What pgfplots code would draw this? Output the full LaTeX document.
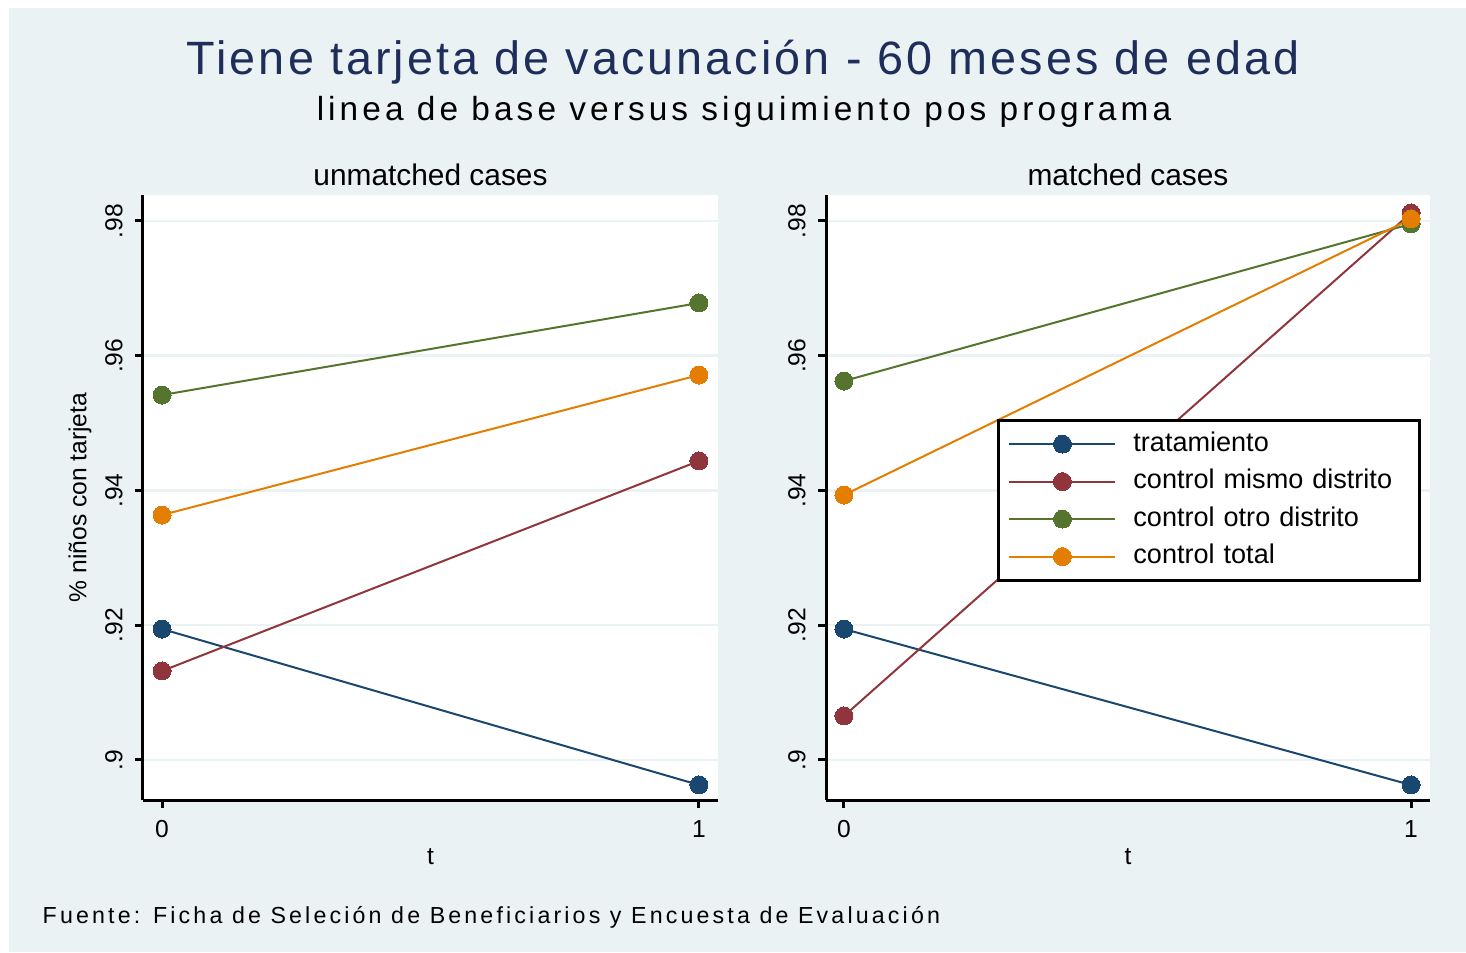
\documentclass[border=0pt]{standalone}
\usepackage{fontspec}
\setmainfont{Liberation Sans}
\usepackage{pgfplots}
\pgfplotsset{compat=1.18}
\definecolor{bg}{RGB}{234,242,243}
\definecolor{ttl}{RGB}{30,45,90}
\definecolor{cnavy}{RGB}{26,71,111}
\definecolor{cmaroon}{RGB}{144,53,59}
\definecolor{cgreen}{RGB}{85,117,47}
\definecolor{corange}{RGB}{227,126,0}
\pgfplotsset{
  ser/.style={color=#1, line width=0.2mm, mark=*, mark size=0.9mm, mark options={fill=#1, draw=#1, line width=0pt}},
  panel/.style={
    scale only axis, height=60.5mm,
    axis lines=left,
    axis line style={-, line width=0.3mm, black},
    every outer x axis line/.append style={-},
    every outer y axis line/.append style={-},
    tick align=outside, major tick length=0.8mm,
    tick style={black, line width=0.3mm},
    xtick={0,1}, xticklabels={0,1},
    ytick={0.9,0.92,0.94,0.96,0.98}, yticklabels={.9,.92,.94,.96,.98},
    ymin=0.89406, ymax=0.98386,
    ymajorgrids, major grid style={bg, line width=0.25mm},
    axis background/.style={fill=white},
    tick label style={font=\fontsize{7}{8}\selectfont},
    yticklabel style={rotate=90, anchor=south},
    xlabel={t},
    xlabel style={font=\fontsize{7}{8}\selectfont, at={(axis description cs:0.5,0)}, anchor=base, yshift=-6.4mm},
    title style={font=\fontsize{8.5}{10}\selectfont, at={(axis description cs:0.5,1)}, anchor=base, yshift=-1.2mm, inner sep=0pt},
    clip=false,
    legend image code/.code={\draw[mark repeat=2, mark phase=2, #1] plot coordinates {(0mm,0mm) (5.3mm,0mm) (10.6mm,0mm)};},
  }
}
\begin{document}
\begin{tikzpicture}[x=0.1mm,y=0.1mm]
\fill[white] (0,0) rectangle (1466,952);
\fill[bg] (9,0) rectangle (1466,944);
\node[font=\fontsize{13.3}{16}\selectfont\addfontfeature{LetterSpace=6.6}, text=ttl] at (743,890) {Tiene tarjeta de vacunación - 60 meses de edad};
\node[font=\fontsize{9.5}{12}\selectfont\addfontfeature{LetterSpace=12.2}, text=black] at (744,840) {linea de base versus siguimiento pos programa};
\node[font=\fontsize{6.6}{8}\selectfont\addfontfeature{LetterSpace=13.6}, anchor=west, inner sep=0pt] at (42,35) {Fuente: Ficha de Seleción de Beneficiarios y Encuesta de Evaluación};

\begin{axis}[panel, at={(14.3mm,15.2mm)}, anchor=south west, width=57.5mm,
  xmin=-0.0354, xmax=1.0354,
  title={unmatched cases},
  ylabel={\% niños con tarjeta},
  ylabel style={font=\fontsize{7}{8}\selectfont, at={(axis description cs:-0.1096,0.5)}, anchor=center},
]
\addplot[ser=cnavy] coordinates {(0,0.91944) (1,0.89629)};
\addplot[ser=cmaroon] coordinates {(0,0.91321) (1,0.94438)};
\addplot[ser=cgreen] coordinates {(0,0.95417) (1,0.96783)};
\addplot[ser=corange] coordinates {(0,0.93636) (1,0.95714)};
\end{axis}

\begin{axis}[panel, at={(82.6mm,15.2mm)}, anchor=south west, width=60.4mm,
  xmin=-0.0317, xmax=1.0335,
  title={matched cases},
  legend style={at={(rel axis cs:0.283,0.630)}, anchor=north west, draw=black, line width=0.3mm, fill=white,
    font=\fontsize{7.7}{9}\selectfont, inner xsep=1mm, inner ysep=0.5mm, row sep=0pt,
    nodes={inner sep=0pt, minimum height=3.75mm},
    /tikz/every odd column/.append style={column sep=1.7mm},
    /tikz/every even column/.append style={text width=27.6mm, align=left}},
  legend cell align=left,
]
\addplot[ser=cnavy] coordinates {(0,0.91944) (1,0.89629)};
\addplot[ser=cmaroon] coordinates {(0,0.90653) (1,0.98119)};
\addplot[ser=cgreen] coordinates {(0,0.95625) (1,0.97956)};
\addplot[ser=corange] coordinates {(0,0.93933) (1,0.98030)};
\legend{tratamiento, control mismo distrito, control otro distrito, control total}
\end{axis}
\end{tikzpicture}
\end{document}
